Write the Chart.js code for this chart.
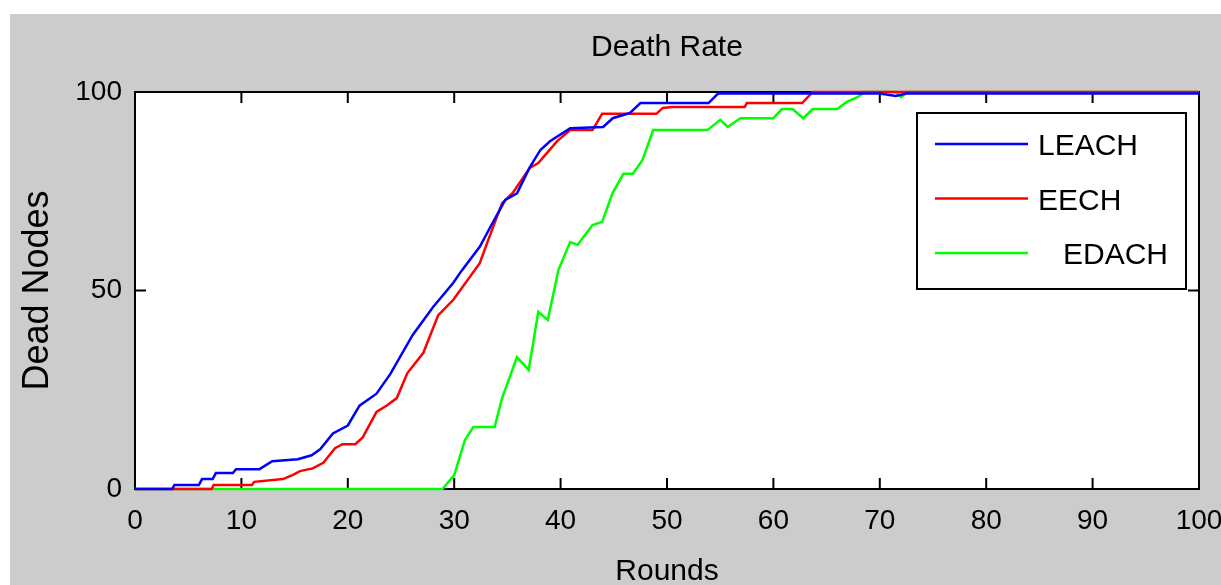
<!DOCTYPE html>
<html>
<head>
<meta charset="utf-8">
<script src="https://cdn.jsdelivr.net/npm/chart.js@4"></script>
<style>
  body { margin: 0; background: #fff; }
  #fig { position: absolute; left: 10px; top: 14px; width: 1211px; height: 571px; background: #cccccc; }
</style>
</head>
<body>
<div id="fig"><canvas id="c" width="1211" height="571"></canvas></div>
<script>
// valeurs (rounds / dead nodes)
const leachRounds = [0, 3.5, 3.7, 6, 6.3, 7.3, 7.6, 9.2, 9.5, 11.7, 12.9, 15.3, 16.6, 17.4, 18.6, 20, 21.1, 22.7, 24, 26.1, 28, 29.9, 30.7, 32.4, 33.6, 34.8, 35.9, 37.1, 38.1, 39, 40.9, 44, 44.9, 46.5, 47.5, 53.9, 54.8, 70, 71.5, 72.5, 100];
const leachDead   = [0, 0, 1, 1, 2.5, 2.5, 4, 4, 5, 5, 7, 7.5, 8.5, 10, 14, 16, 21, 24, 29, 38.8, 45.8, 51.9, 55, 61, 67, 72.8, 74.5, 81, 85.4, 87.6, 90.9, 91.2, 93.4, 94.7, 97.2, 97.2, 99.6, 99.6, 99, 99.6, 99.6];

const eechRounds = [0, 7.2, 7.4, 11, 11.2, 13.9, 14.8, 15.5, 16.7, 17.7, 18.8, 19.5, 20.7, 21.4, 22.7, 23.7, 24.6, 25.6, 27.1, 28.5, 29.9, 32.4, 33.1, 34.5, 35.5, 37.1, 37.9, 39.7, 40.9, 43, 43.9, 49, 49.6, 50.5, 57.3, 57.5, 62.7, 63.7, 100];
const eechDead   = [0, 0, 1, 1, 1.8, 2.5, 3.5, 4.5, 5.2, 6.6, 10.3, 11.3, 11.3, 13, 19.4, 21.1, 22.9, 29.2, 34.3, 43.8, 47.6, 56.9, 62, 72, 74.6, 80.9, 82.1, 87.7, 90.4, 90.4, 94.5, 94.5, 96, 96.2, 96.2, 97.2, 97.2, 100, 100];

const edachRounds = [0, 28.9, 30, 31, 31.8, 33.8, 34.5, 35.9, 37, 37.9, 38.8, 39.8, 40.9, 41.6, 43, 43.9, 44.9, 45.9, 46.8, 47.7, 48.7, 53.8, 55, 55.7, 56.9, 60, 60.8, 61.8, 62.8, 63.7, 66, 66.9, 67.9, 68.6, 71.5, 72, 72.6, 100];
const edachDead   = [0, 0, 3.5, 12.3, 15.6, 15.6, 22.9, 33.2, 30, 44.6, 42.6, 55.2, 62.2, 61.5, 66.5, 67.3, 74.6, 79.4, 79.4, 82.9, 90.4, 90.4, 93, 91.2, 93.4, 93.4, 95.7, 95.7, 93.4, 95.7, 95.7, 97.5, 98.7, 100, 100, 98.7, 100, 100];

const seriesNames = ['LEACH', 'EECH', '   EDACH'];
const seriesColors = ['#0000ff', '#ff0000', '#00ff00'];
const xTicks = [0, 10, 20, 30, 40, 50, 60, 70, 80, 90, 100];
const yTicks = [0, 50, 100];

const arial = "'Liberation Sans', Arial, sans-serif";

function pts(xs, ys) {
  return xs.map((x, i) => ({ x: x, y: ys[i] }));
}

// cadre noir + graduations vers l'intérieur, façon matlab
const boxPlugin = {
  id: 'box',
  beforeDatasetsDraw(chart) {
    const { ctx, chartArea: a, scales } = chart;
    ctx.save();
    ctx.fillStyle = '#fff';
    ctx.fillRect(a.left, a.top, a.right - a.left, a.bottom - a.top);
    ctx.strokeStyle = '#000';
    ctx.lineWidth = 2;
    ctx.strokeRect(a.left, a.top, a.right - a.left, a.bottom - a.top);
    ctx.beginPath();
    const tl = 11;
    xTicks.forEach(v => {
      const px = scales.x.getPixelForValue(v);
      ctx.moveTo(px, a.bottom); ctx.lineTo(px, a.bottom - tl);
      ctx.moveTo(px, a.top); ctx.lineTo(px, a.top + tl);
    });
    yTicks.forEach(v => {
      const py = scales.y.getPixelForValue(v);
      ctx.moveTo(a.left, py); ctx.lineTo(a.left + tl, py);
      ctx.moveTo(a.right, py); ctx.lineTo(a.right - tl, py);
    });
    ctx.stroke();
    ctx.restore();
  },
  afterDraw(chart) {
    // légende dans le coin haut droit
    const { ctx } = chart;
    const bx = 907, by = 99, bw = 269, bh = 176;
    ctx.save();
    ctx.fillStyle = '#fff';
    ctx.fillRect(bx, by, bw, bh);
    ctx.strokeStyle = '#000';
    ctx.lineWidth = 2;
    ctx.strokeRect(bx, by, bw, bh);
    ctx.font = '30px ' + arial;
    ctx.textBaseline = 'middle';
    ctx.textAlign = 'left';
    chart.data.datasets.forEach((ds, i) => {
      const y = 130 + i * 54.5;
      ctx.strokeStyle = ds.borderColor;
      ctx.lineWidth = 2.5;
      ctx.beginPath();
      ctx.moveTo(925, y);
      ctx.lineTo(1018, y);
      ctx.stroke();
      ctx.fillStyle = '#000';
      ctx.fillText(ds.label, 1028, y + 3);
    });
    ctx.restore();
  }
};

new Chart(document.getElementById('c'), {
  type: 'line',
  data: {
    datasets: [
      { label: seriesNames[0], data: pts(leachRounds, leachDead), borderColor: seriesColors[0] },
      { label: seriesNames[1], data: pts(eechRounds, eechDead), borderColor: seriesColors[1] },
      { label: seriesNames[2], data: pts(edachRounds, edachDead), borderColor: seriesColors[2] }
    ]
  },
  options: {
    responsive: false,
    animation: false,
    clip: false,
    elements: {
      point: { radius: 0 },
      line: { borderWidth: 2.5, tension: 0 }
    },
    layout: { padding: { left: 0, right: 22, top: 0, bottom: 0 } },
    plugins: {
      legend: { display: false },
      tooltip: { enabled: false },
      title: {
        display: true,
        text: 'Death Rate',
        fullSize: false,
        color: '#000',
        font: { family: arial, size: 30, weight: 'normal' },
        padding: { top: 16, bottom: 26 }
      }
    },
    scales: {
      x: {
        type: 'linear',
        min: 0,
        max: 100,
        afterFit(s) { s.height = 96; s.paddingLeft = 0; s.paddingRight = 0; },
        afterBuildTicks(s) { s.ticks = xTicks.map(v => ({ value: v })); },
        grid: { display: false, drawTicks: false },
        border: { display: false },
        ticks: {
          autoSkip: false,
          maxRotation: 0,
          padding: 15,
          color: '#000',
          font: { family: arial, size: 28 }
        },
        title: {
          display: true,
          text: 'Rounds',
          color: '#000',
          font: { family: arial, size: 30, lineHeight: 0.9 },
          padding: { top: 0, bottom: 0 }
        }
      },
      y: {
        type: 'linear',
        min: 0,
        max: 100,
        afterFit(s) { s.width = 125; },
        afterBuildTicks(s) { s.ticks = yTicks.map(v => ({ value: v })); },
        grid: { display: false, drawTicks: false },
        border: { display: false },
        ticks: {
          padding: 13,
          color: '#000',
          font: { family: arial, size: 28 }
        },
        title: {
          display: true,
          text: 'Dead Nodes',
          color: '#000',
          font: { family: arial, size: 36 },
          padding: { top: 6, bottom: 0 }
        }
      }
    }
  },
  plugins: [boxPlugin]
});
</script>
</body>
</html>
